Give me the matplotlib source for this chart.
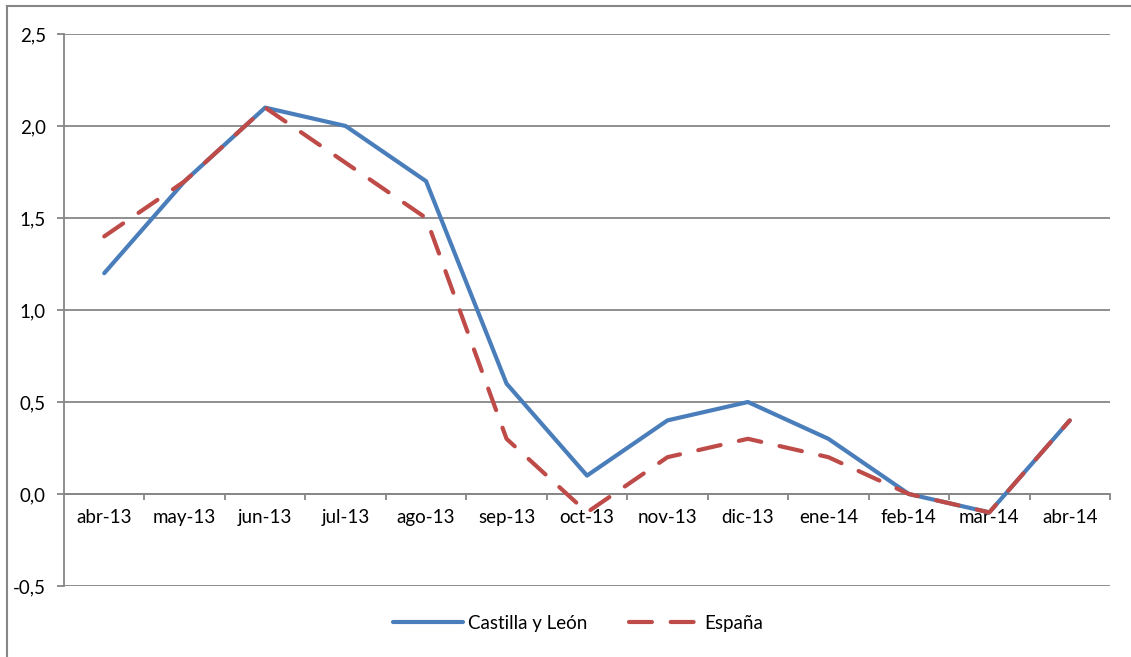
import matplotlib
matplotlib.use("Agg")
import matplotlib.pyplot as plt
from matplotlib.ticker import FuncFormatter, FixedLocator
from matplotlib.lines import Line2D

categories = ["abr-13", "may-13", "jun-13", "jul-13", "ago-13", "sep-13", "oct-13",
              "nov-13", "dic-13", "ene-14", "feb-14", "mar-14", "abr-14"]
castilla = [1.2, 1.7, 2.1, 2.0, 1.7, 0.6, 0.1, 0.4, 0.5, 0.3, 0.0, -0.1, 0.4]
espana = [1.4, 1.7, 2.1, 1.8, 1.5, 0.3, -0.1, 0.2, 0.3, 0.2, 0.0, -0.1, 0.4]
yticks = [-0.5, 0.0, 0.5, 1.0, 1.5, 2.0, 2.5]

plt.rcParams['font.family'] = ['Lato', 'DejaVu Sans']
W, H = 1131, 657
fig = plt.figure(figsize=(W / 100, H / 100), dpi=100)
ax = fig.add_axes([64 / W, 1 - 586 / H, (1110 - 64) / W, (586 - 34) / H])

grid_c = "#868686"
fs = 13.5
x = list(range(len(categories)))
ax.set_xlim(-0.5, len(categories) - 0.5)
ax.set_ylim(-0.5, 2.5)
ax.set_yticks(yticks)
ax.yaxis.set_major_formatter(FuncFormatter(lambda v, p: f"{v:.1f}".replace(".", ",")))
for v in yticks:
    ax.axhline(v, color=grid_c, lw=1.3, zorder=1)

ax.plot(x, castilla, color="#4a7ebb", lw=3, solid_capstyle="round", zorder=3,
        label="Castilla y León")
ax.plot(x, espana, color="#be4b48", lw=3, dashes=(5.5, 4.5), dash_capstyle="round",
        zorder=4, label="España")

for s in ["top", "right"]:
    ax.spines[s].set_visible(False)
ax.spines["left"].set_color(grid_c)
ax.spines["left"].set_linewidth(1.3)
ax.spines["bottom"].set_position(("data", 0))
ax.spines["bottom"].set_color(grid_c)
ax.spines["bottom"].set_linewidth(1.3)

ax.set_xticks(x)
ax.set_xticklabels(categories)
ax.xaxis.set_minor_locator(FixedLocator([i + 0.5 for i in range(len(categories))]))
ax.tick_params(axis="x", which="major", length=0, pad=11, labelsize=fs, labelcolor="#000000")
ax.tick_params(axis="x", which="minor", length=4, color=grid_c, width=1.3, direction="out")
ax.tick_params(axis="y", length=5, color=grid_c, width=1.3, pad=8, labelsize=fs)

handles = [Line2D([0], [0], color="#4a7ebb", lw=3, solid_capstyle="round"),
           Line2D([0], [0], color="#be4b48", lw=3, dashes=(5.5, 4.5), dash_capstyle="round")]
fig.legend(handles, ["Castilla y León", "España"], loc="center",
           bbox_to_anchor=(578 / W, 1 - 623 / H), ncol=2, frameon=False,
           fontsize=fs, handlelength=3.7, columnspacing=2.2, handletextpad=0.3)

# outer chart border (left and top visible)
fig.add_artist(Line2D([7 / W, 7 / W], [0, 1 - 6 / H], transform=fig.transFigure,
                      color=grid_c, lw=1.5))
fig.add_artist(Line2D([7 / W, 1], [1 - 6 / H, 1 - 6 / H], transform=fig.transFigure,
                      color=grid_c, lw=1.5))

fig.savefig("out.png", dpi=100)
